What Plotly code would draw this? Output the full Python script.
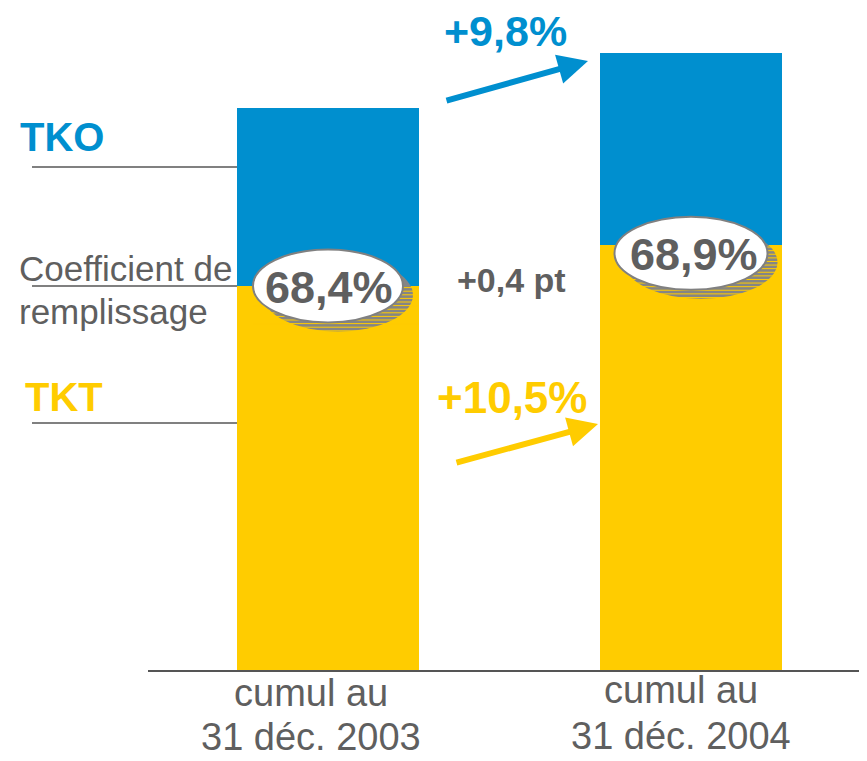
import plotly.graph_objects as go

# ---- data ----
cat_line1 = ["cumul au", "cumul au"]
cat_line2 = ["31 déc. 2003", "31 déc. 2004"]
tko = [100.0, 109.8]          # index, TKO 2003 = 100
tkt = [68.4, 75.6]            # TKT (index)
load_factor = ["68,4%", "68,9%"]
growth_tko = "+9,8%"
growth_tkt = "+10,5%"
delta_lf = "+0,4 pt"

BLUE = "#008FCF"
YELLOW = "#FFCC00"
GRAY = "#5F5F5F"
LINEGRAY = "#808080"
FONT = "Liberation Sans, Arial"

OFF = 8             # page body margin
W, H = 859, 753
BASE = 663          # figure pixel row of the baseline
PXU = 5.63          # pixels per data unit (y)
XU = 363            # pixels per category step
X0 = 320            # figure pixel column of first category


def X(px):          # screen px -> data x
    return (px - OFF - X0) / XU


def Y(py):          # screen px -> data y
    return (BASE - (py - OFF)) / PXU


def PXp(px):        # screen px -> paper x
    return (px - OFF) / W


def PYp(py):        # screen px -> paper y
    return (BASE - (py - OFF)) / BASE


xs = [0, 1]
rest = [a - b for a, b in zip(tko, tkt)]
BW = 182 / XU

fig = go.Figure()
fig.add_trace(go.Bar(x=xs, y=tkt, width=BW, marker=dict(color=YELLOW, line=dict(width=0)),
                     name="TKT", showlegend=False, hoverinfo="skip"))
fig.add_trace(go.Bar(x=xs, y=rest, width=BW, marker=dict(color=BLUE, line=dict(width=0)),
                     name="TKO", showlegend=False, hoverinfo="skip"))

shapes = []
annotations = []

# baseline
shapes.append(dict(type="line", xref="paper", yref="paper", x0=PXp(148), x1=1.0, y0=0, y1=0,
                   line=dict(color="#555555", width=2), layer="above"))

# left guide lines
for ly in [PYp(167), tkt[0] * PXU / BASE, PYp(423)]:
    shapes.append(dict(type="line", xref="paper", yref="paper",
                       x0=PXp(32), x1=PXp(250), y0=ly, y1=ly,
                       line=dict(color=LINEGRAY, width=2), layer="below"))

# ellipses with hatched shadows
ell_offsets = [0.0, -1.4]
half_w = [75 / XU, 76.5 / XU]
half_h = 36.5 / PXU
sdx, sdy = 10 / XU, -9 / PXU
for i, x in enumerate(xs):
    cy = tkt[i] + ell_offsets[i]
    shapes.append(dict(type="circle", xref="x", yref="y",
                       x0=x - half_w[i] + sdx, x1=x + half_w[i] + sdx,
                       y0=cy - half_h + sdy, y1=cy + half_h + sdy,
                       fillcolor="#858585", line=dict(width=0), layer="above"))
    yy = tkt[i] - 0.3
    ybot = cy - half_h + sdy
    while yy > ybot:
        shapes.append(dict(type="line", xref="x", yref="y",
                           x0=x - half_w[i], x1=x + 91 / XU, y0=yy, y1=yy,
                           line=dict(color=YELLOW, width=1), layer="above"))
        yy -= 3.6 / PXU
    shapes.append(dict(type="circle", xref="x", yref="y",
                       x0=x - half_w[i], x1=x + half_w[i],
                       y0=cy - half_h, y1=cy + half_h,
                       fillcolor="white", line=dict(color=LINEGRAY, width=2), layer="above"))
    annotations.append(dict(x=x + (3 / XU if i else 1 / XU), y=cy - 1.5 / PXU, xref="x", yref="y",
                            text="<b>%s</b>" % load_factor[i], showarrow=False,
                            font=dict(size=45, color=GRAY, family=FONT),
                            xanchor="center", yanchor="middle"))

# category labels
lab_dx = [-17, -10]
lab_y1 = [693, 690]
lab_y2 = [737, 736]
for i, x in enumerate(xs):
    annotations.append(dict(x=x + lab_dx[i] / XU, y=PYp(lab_y1[i]), xref="x", yref="paper",
                            text=cat_line1[i], showarrow=False, borderpad=0,
                            font=dict(size=38, color=GRAY, family=FONT),
                            xanchor="center", yanchor="middle"))
    annotations.append(dict(x=x + lab_dx[i] / XU, y=PYp(lab_y2[i]), xref="x", yref="paper",
                            text=cat_line2[i], showarrow=False, borderpad=0,
                            font=dict(size=38, color=GRAY, family=FONT),
                            xanchor="center", yanchor="middle"))

annotations += [
    dict(x=X(18), y=Y(137), xref="x", yref="y", text="<b>TKO</b>", showarrow=False,
         font=dict(size=40, color=BLUE, family=FONT), xanchor="left", yanchor="middle"),
    dict(x=X(17), y=Y(268), xref="x", yref="y", text="Coefficient de", showarrow=False,
         font=dict(size=35, color=GRAY, family=FONT), xanchor="left", yanchor="middle"),
    dict(x=X(17), y=Y(311), xref="x", yref="y", text="remplissage", showarrow=False,
         font=dict(size=35, color=GRAY, family=FONT), xanchor="left", yanchor="middle"),
    dict(x=X(23), y=Y(397), xref="x", yref="y", text="<b>TKT</b>", showarrow=False,
         font=dict(size=40, color=YELLOW, family=FONT), xanchor="left", yanchor="middle"),
    dict(x=X(505), y=Y(31), xref="x", yref="y", text="<b>%s</b>" % growth_tko, showarrow=False,
         font=dict(size=43, color=BLUE, family=FONT), xanchor="center", yanchor="middle"),
    dict(x=X(512), y=Y(397), xref="x", yref="y", text="<b>%s</b>" % growth_tkt, showarrow=False,
         font=dict(size=44, color=YELLOW, family=FONT), xanchor="center", yanchor="middle"),
    dict(x=X(511), y=Y(280), xref="x", yref="y", text="<b>%s</b>" % delta_lf, showarrow=False,
         font=dict(size=34, color=GRAY, family=FONT), xanchor="center", yanchor="middle"),
    dict(x=X(588), y=Y(61), ax=X(445), ay=Y(101), xref="x", yref="y", axref="x", ayref="y",
         text="", showarrow=True, arrowhead=2, arrowsize=1.0, arrowwidth=6, arrowcolor=BLUE,
         standoff=0, startstandoff=0),
    dict(x=X(598), y=Y(424), ax=X(455), ay=Y(463), xref="x", yref="y", axref="x", ayref="y",
         text="", showarrow=True, arrowhead=2, arrowsize=1.0, arrowwidth=6, arrowcolor=YELLOW,
         standoff=0, startstandoff=0),
]

fig.update_layout(
    width=W, height=H,
    margin=dict(l=0, r=0, t=0, b=H - BASE, pad=0),
    barmode="stack",
    bargap=0,
    plot_bgcolor="white", paper_bgcolor="white",
    xaxis=dict(range=[X(OFF), X(OFF + W)], showticklabels=False, showgrid=False, zeroline=False,
               showline=False, fixedrange=True),
    yaxis=dict(range=[0, Y(OFF)], showticklabels=False, showgrid=False, zeroline=False,
               showline=False, fixedrange=True),
    shapes=shapes,
    annotations=annotations,
    showlegend=False,
)

fig.write_html("out.html", config={"displayModeBar": False})
